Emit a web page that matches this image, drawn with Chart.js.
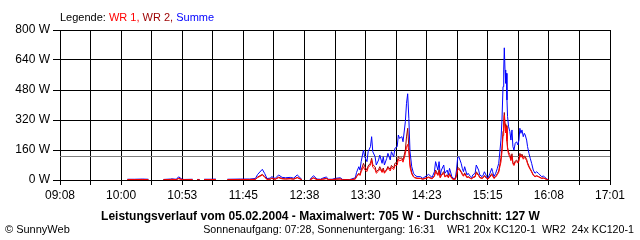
<!DOCTYPE html>
<html><head><meta charset="utf-8">
<script src="https://cdn.jsdelivr.net/npm/chart.js@4/dist/chart.umd.min.js"></script>
<style>
html,body{margin:0;padding:0;background:#fff;width:640px;height:240px;overflow:hidden;}
#wrap{position:relative;width:640px;height:240px;}
canvas{position:absolute;left:0;top:0;}
.t{position:absolute;white-space:pre;font-family:"Liberation Sans",Arial,sans-serif;font-size:10.7px;line-height:14px;color:#000;}
</style></head>
<body><div id="wrap">
<canvas id="c" width="640" height="240"></canvas>
<div class="t" id="legend" style="left:60px;top:10px;font-size:11px;">Legende: <span style="color:#ff0000">WR 1,</span> <span style="color:#9c0000">WR 2,</span> <span style="color:#0000ff">Summe</span></div>
<div class="t" id="title" style="left:0;width:641px;text-align:center;top:209px;font-weight:bold;font-size:12px;">Leistungsverlauf vom 05.02.2004 - Maximalwert: 705 W - Durchschnitt: 127 W</div>
<div class="t" style="left:5px;top:222px;font-size:11px;">© SunnyWeb</div>
<div class="t" style="right:6px;top:222px;text-align:right;">Sonnenaufgang: 07:28, Sonnenuntergang: 16:31    WR1 20x KC120-1  WR2  24x KC120-1</div>
</div>
<script>
// x tick labels (time of day); axis runs from the first to the last label
const xTickLabels = ['09:08','10:00','10:53','11:45','12:38','13:30','14:23','15:15','16:08','17:01'];
const yTickValues = [0,160,320,480,640,800];
const average = 127;

// sample times, minutes since midnight
const times = [606,612,619,624,630,637,643,644,648,650,653,655,662,664,666,668,670,672,677,682,687,692,703,711,716,718,722,724,726,729,730,733,736,739,742,746,749,752,756,759,763,766,769,772,774,777,779,782,785,789,791,797,802,
803,805,806,807,809,810,812,813,815,816,817,819,820,822,823,825,826,827,829,830,832,833,835,836,838,839,840,842,843,845,846,847,848,849,850.5,852,853,855,858,
860,865,868,870,871,873,874,875,876,878,879,881,882,883,885,886,888,889,890,891,893,894,895,896,898,899,901,902,903,905,906,908,909,911,912,913,915,916,
917.8,919.3,920.1,921.2,922.7,924.1,925.3,926.4,927.2,928.1,929.0,929.6,930.1,930.7,931.3,931.8,932.4,932.9,933.8,934.9,935.8,936.7,937.5,938.4,939.5,940.7,941.8,942.7,943.5,944.4,945.3,946.4,947.3,948.1,949.3,950.1,951.3,952.4,953.6,955.0,956.5,957.9,959.4,960.8,962.2,963.7,965.1,966.5,968.0];

const summe = [4,4,5,4,null,3,5,6,4,17,4,3,4,null,3,3,null,4,4,5,null,4,5,5,8,30,57,35,8,10,18,8,27,14,12,14,10,27,3,null,3,23,5,4,10,16,4,4,9,12,3,2,12,
40,71,53,98,160,124,98,151,178,231,151,124,80,107,133,89,124,80,116,142,107,151,124,169,178,240,222,231,204,311,409,460,329,151,71,36,27,18,18,
9,30,14,44,98,53,98,27,53,80,36,53,27,62,18,9,9,53,120,124,89,62,44,71,27,36,18,12,27,36,80,53,27,18,27,44,18,9,
36,62,44,18,36,62,89,160,213,320,498,587,705,587,516,569,427,338,284,258,213,267,178,160,196,204,187,213,276,249,267,231,249,240,213,178,142,116,89,53,36,44,36,27,18,21,14,7,0];

const wr2 = [2,2,3,2,null,2,3,4,2,9,2,2,2,null,2,2,null,2,2,3,null,2,3,3,4,16,30,19,4,5,10,4,15,8,6,8,5,14,2,null,2,12,3,2,5,9,2,2,5,6,2,1,6,
20,36,28,53,89,72,53,75,90,116,82,70,44,56,71,46,64,40,58,72,56,78,64,89,95,125,115,118,105,160,230,276,175,85,38,19,14,10,9,
5,16,8,23,53,28,55,14,28,45,19,28,14,34,10,5,5,28,66,64,46,34,23,38,14,19,10,7,14,20,44,28,14,10,14,24,10,5,
20,34,24,10,20,34,48,86,118,170,260,310,360,300,265,290,220,175,148,135,110,140,92,83,101,106,97,112,142,128,138,120,129,124,110,92,74,60,46,28,19,23,19,14,10,11,7,4,0];

const wr1 = [2,2,2,2,null,1,2,3,2,7,2,1,2,null,1,1,null,2,2,2,null,2,2,2,3,13,26,15,3,4,8,4,12,6,5,6,4,12,1,null,1,10,2,2,4,7,2,2,4,5,1,1,5,
17,31,24,44,71,55,45,66,80,105,68,56,36,48,60,40,56,36,52,64,48,68,56,76,80,112,102,108,95,140,175,190,150,68,32,16,12,8,8,
4,13,6,19,44,24,43,12,24,36,16,24,12,28,8,4,4,24,54,58,41,28,20,32,12,16,8,5,12,16,36,24,12,8,12,20,8,4,
16,28,20,8,16,28,41,74,95,150,238,277,345,287,251,279,207,163,136,123,103,127,86,77,95,98,90,101,134,121,129,111,120,116,103,86,68,56,43,25,17,21,17,13,8,10,7,3,0];

function toMin(s){const p=s.split(':');return (+p[0])*60+(+p[1]);}
const xMin = toMin(xTickLabels[0]);
const xMax = toMin(xTickLabels[xTickLabels.length-1]);
const xSteps = (xTickLabels.length-1)*2;

function pts(arr){return times.map((t,i)=>({x:t,y:arr[i]}));}

const avgPlugin = {
  id:'avg',
  beforeDatasetsDraw(chart){
    const {ctx, chartArea:a, scales:{y}} = chart;
    const py = Math.round(y.getPixelForValue(average)) + 0.5;
    ctx.save();
    ctx.strokeStyle = '#808080';
    ctx.lineWidth = 1;
    ctx.beginPath();
    ctx.moveTo(a.left, py);
    ctx.lineTo(a.right, py);
    ctx.stroke();
    ctx.restore();
  }
};

const font = {family:'"Liberation Sans", Arial, sans-serif', size:12};

new Chart(document.getElementById('c'), {
  type:'line',
  data:{datasets:[
    {label:'WR 1', data:pts(wr1), borderColor:'#ff0000', borderWidth:1, pointRadius:0, spanGaps:false, tension:0},
    {label:'WR 2', data:pts(wr2), borderColor:'#9c0000', borderWidth:1, pointRadius:0, spanGaps:false, tension:0},
    {label:'Summe', data:pts(summe), borderColor:'#0000ff', borderWidth:1, pointRadius:0, spanGaps:false, tension:0}
  ]},
  options:{
    responsive:false, animation:false, events:[],
    layout:{padding:{top:30,right:30,left:0,bottom:0}},
    plugins:{legend:{display:false}, tooltip:{enabled:false}},
    scales:{
      x:{
        type:'linear', min:xMin, max:xMax,
        afterBuildTicks(s){ s.ticks=[]; for(let i=0;i<=xSteps;i++) s.ticks.push({value:xMin+i*(xMax-xMin)/xSteps}); },
        afterFit(s){ s.height = 60; },
        ticks:{autoSkip:false, maxRotation:0, minRotation:0, color:'#000', font:font, padding:3,
          callback(v,i){ return i%2===0 ? xTickLabels[i/2] : ''; }},
        grid:{color:'#000', lineWidth:1, tickLength:5, drawTicks:true},
        border:{display:true, color:'#000', width:1}
      },
      y:{
        min:0, max:800,
        afterBuildTicks(s){ s.ticks = yTickValues.map(v=>({value:v})); },
        afterFit(s){ s.width = 60; },
        ticks:{color:'#000', font:font, padding:3, callback(v){ return v+' W'; }},
        grid:{color:'#000', lineWidth:1, tickLength:7, drawTicks:true},
        border:{display:true, color:'#000', width:1}
      }
    }
  },
  plugins:[avgPlugin]
});
</script>
</body></html>
